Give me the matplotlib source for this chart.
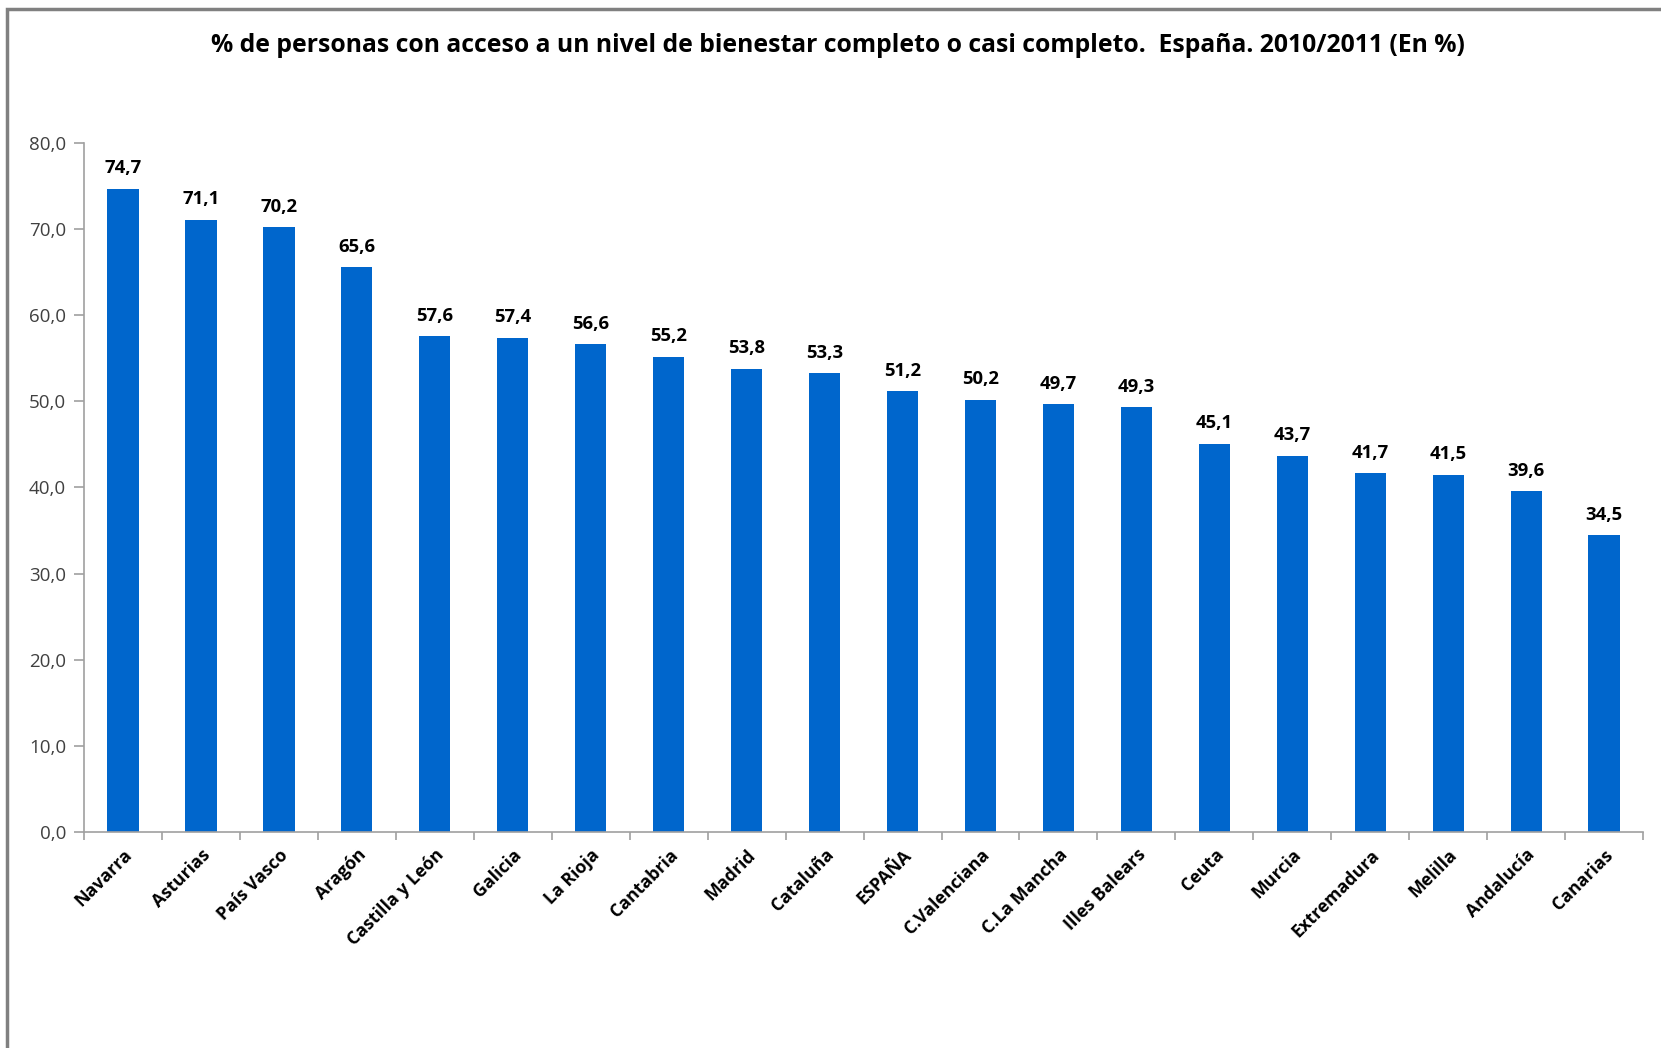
import matplotlib
matplotlib.use("Agg")
import matplotlib.pyplot as plt
from matplotlib.patches import Rectangle

regions = ["Navarra", "Asturias", "País Vasco", "Aragón", "Castilla y León", "Galicia",
           "La Rioja", "Cantabria", "Madrid", "Cataluña", "ESPAÑA", "C.Valenciana",
           "C.La Mancha", "Illes Balears", "Ceuta", "Murcia", "Extremadura", "Melilla",
           "Andalucía", "Canarias"]
values = [74.7, 71.1, 70.2, 65.6, 57.6, 57.4, 56.6, 55.2, 53.8, 53.3, 51.2, 50.2,
          49.7, 49.3, 45.1, 43.7, 41.7, 41.5, 39.6, 34.5]
yticks = [0, 10, 20, 30, 40, 50, 60, 70, 80]

plt.rcParams['font.family'] = ['Open Sans', 'DejaVu Sans']

fig = plt.figure(figsize=(16.61, 10.48), dpi=100)
ax = fig.add_axes([0.0506, 0.2061, 0.9386, 0.6575])

x = list(range(len(regions)))
ax.bar(x, values, width=0.4, color='#0066CC', zorder=2)
for xi, v in zip(x, values):
    ax.text(xi, v + 1.3, f"{v:.1f}".replace('.', ','), ha='center', va='bottom',
            fontsize=13.3, fontweight='bold', color='black')

ax.set_xlim(-0.5, len(regions) - 0.5)
ax.set_ylim(0, 80)
ax.set_yticks(yticks)
ax.set_yticklabels([f"{t:.1f}".replace('.', ',') for t in yticks], fontsize=13.5, color='#404040')

ax.set_xticks(x)
ax.set_xticklabels(regions, rotation=45, ha='right', rotation_mode='anchor',
                   fontsize=12.8, fontweight='bold')
ax.set_xticks([i - 0.5 for i in range(len(regions) + 1)], minor=True)
ax.tick_params(axis='x', which='major', length=0, pad=10)
ax.tick_params(axis='x', which='minor', length=6, color='#A0A0A0', width=1.2, direction='out')
ax.tick_params(axis='y', length=7, color='#A0A0A0', width=1.2, direction='out', pad=6)

for s in ['top', 'right']:
    ax.spines[s].set_visible(False)
for s in ['left', 'bottom']:
    ax.spines[s].set_color('#A0A0A0')
    ax.spines[s].set_linewidth(1.2)

fig.text(0.5045, 0.957, "% de personas con acceso a un nivel de bienestar completo o casi completo.  España. 2010/2011 (En %)",
         ha='center', va='center', fontsize=17.8, fontweight='bold', color='black')

fig.patches.append(Rectangle((7 / 1661, -0.1), 1.2, 1.1 - 9 / 1048, transform=fig.transFigure,
                             fill=False, edgecolor='#808080', linewidth=2.5, figure=fig))

fig.savefig("out.png", dpi=100)
